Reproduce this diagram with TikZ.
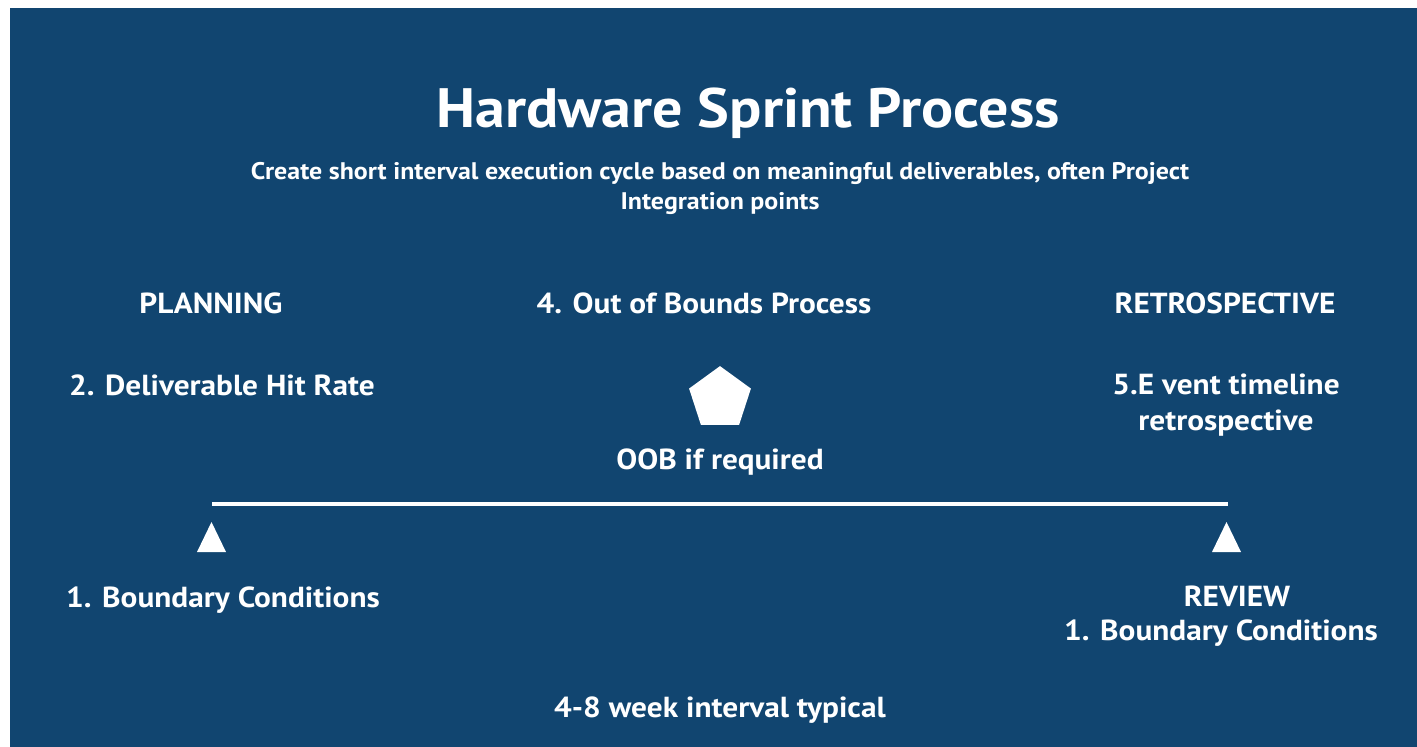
\documentclass[tikz,border=0pt]{standalone}
\usepackage{fontspec}
\setmainfont[FakeStretch=1.08]{PT Sans}
\usetikzlibrary{shapes.geometric}
\definecolor{bgblue}{RGB}{17,69,112}
\begin{document}
\begin{tikzpicture}[x=1pt,y=-1pt,
  lbl/.style={text=white,font=\bfseries\fontsize{29}{34}\selectfont,anchor=base,inner sep=0pt,align=center},
  marker/.style={fill=white,draw=none}]
\useasboundingbox (0,0) rectangle (1417,747);
\fill[white] (0,0) rectangle (1417,747);
\fill[bgblue] (10,8) rectangle (1417,747);
\node[lbl,font=\bfseries\fontsize{55.5}{60}\selectfont] (title) at (748,127) {Hardware Sprint Process};
\node[lbl,font=\bfseries\fontsize{24}{30}\selectfont] (sub1) at (720,179) {Create short interval execution cycle based on meaningful deliverables, often Project};
\node[lbl,font=\bfseries\fontsize{24}{30}\selectfont] (sub2) at (720,209) {Integration points};
\node[lbl] (plan) at (211,313) {PLANNING};
\node[lbl] (oobp) at (704,313) {4. Out of Bounds Process};
\node[lbl] (retro) at (1225,313) {RETROSPECTIVE};
\node[lbl] (hit) at (222,395) {2. Deliverable Hit Rate};
\node[lbl] (evt1) at (1226,394) {5.E vent timeline};
\node[lbl] (evt2) at (1226,430) {retrospective};
\node[regular polygon,regular polygon sides=5,minimum size=65pt,inner sep=0pt,marker] (pent) at (720,398.6) {};
\node[lbl] (oob) at (720,469) {OOB if required};
\coordinate (lstart) at (212,504);
\coordinate (lend) at (1228,504);
\draw[white,line width=4.5pt] (lstart) -- (lend);
\fill[marker] (197,552) -- (211.5,522) -- (226,552) -- cycle;
\fill[marker] (1212,552) -- (1226.5,522) -- (1241,552) -- cycle;
\node[lbl] (bc1) at (223,607) {1. Boundary Conditions};
\node[lbl] (rev) at (1237,606) {REVIEW};
\node[lbl] (bc2) at (1221,640) {1. Boundary Conditions};
\node[lbl] (interval) at (720,717) {4-8 week interval typical};
\end{tikzpicture}
\end{document}
